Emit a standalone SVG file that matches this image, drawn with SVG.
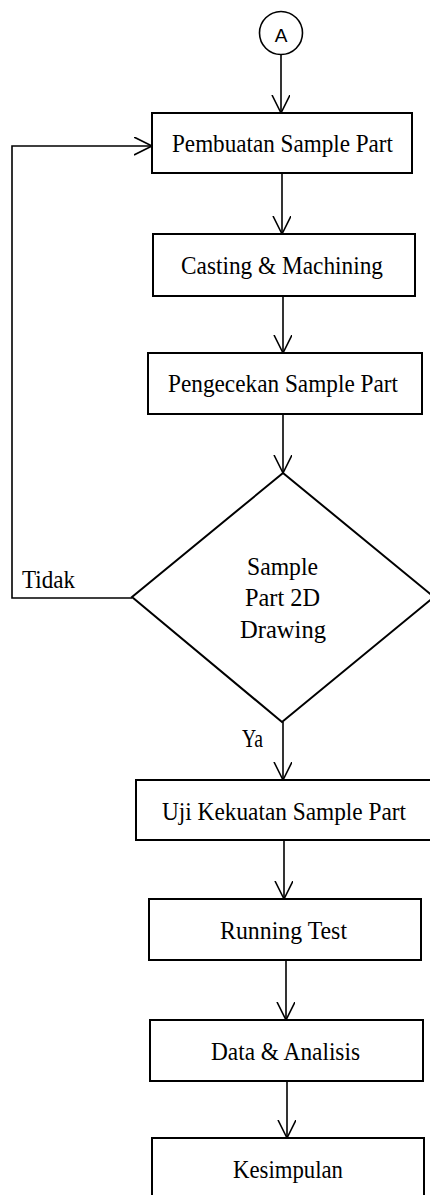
<svg xmlns="http://www.w3.org/2000/svg" width="430" height="1195" viewBox="0 0 430 1195">
<style>
.box{fill:#fff;stroke:#000;stroke-width:2}
.conn{fill:none;stroke:#000;stroke-width:1.6;marker-end:url(#arr)}
.t{font-family:"Liberation Serif","Times New Roman",serif;font-size:26px;fill:#000}
.s{font-family:"Liberation Sans",Arial,sans-serif;font-size:19px;fill:#000}
</style>
<defs>
<marker id="arr" markerUnits="userSpaceOnUse" markerWidth="20" markerHeight="20" refX="18" refY="9" orient="auto" viewBox="0 0 20 20">
<path d="M0,0 L18,9 L0,18" fill="none" stroke="#000" stroke-width="1.6"/>
</marker>
</defs>
<rect width="430" height="1195" fill="#fff"/>
<g id="connectors">
<path class="conn" d="M281,55 V113"/>
<path class="conn" d="M282,174 V234"/>
<path class="conn" d="M283,296 V353"/>
<path class="conn" d="M283,414 V473"/>
<path class="conn" d="M283,722 V780"/>
<path class="conn" d="M132,598 H12 V146 H152"/>
<path class="conn" d="M284,840 V899"/>
<path class="conn" d="M286,960 V1020"/>
<path class="conn" d="M287,1081 V1138"/>
<text class="t" x="22" y="588" textLength="53" lengthAdjust="spacingAndGlyphs">Tidak</text>
<text class="t" x="242" y="747" textLength="21" lengthAdjust="spacingAndGlyphs">Ya</text>
</g>
<g id="nodeA">
<circle cx="281" cy="33" r="21.5" fill="#fff" stroke="#000" stroke-width="1.6"/>
<text class="s" x="281" y="42" text-anchor="middle">A</text>
</g>
<g id="node1">
<rect class="box" x="152" y="113" width="260" height="60"/>
<text class="t" x="172" y="152" textLength="221" lengthAdjust="spacingAndGlyphs">Pembuatan Sample Part</text>
</g>
<g id="node2">
<rect class="box" x="153" y="234" width="262" height="62"/>
<text class="t" x="181" y="274" textLength="202" lengthAdjust="spacingAndGlyphs">Casting &amp; Machining</text>
</g>
<g id="node3">
<rect class="box" x="148" y="353" width="274" height="61"/>
<text class="t" x="168" y="392" textLength="230" lengthAdjust="spacingAndGlyphs">Pengecekan Sample Part</text>
</g>
<g id="node4">
<polygon points="283,473 434,597 282,722 132,597" fill="#fff" stroke="#000" stroke-width="2"/>
<text class="t" x="247" y="575" textLength="71" lengthAdjust="spacingAndGlyphs">Sample</text>
<text class="t" x="245" y="606" textLength="75" lengthAdjust="spacingAndGlyphs">Part 2D</text>
<text class="t" x="240" y="638" textLength="86" lengthAdjust="spacingAndGlyphs">Drawing</text>
</g>
<g id="node5">
<rect class="box" x="136" y="780" width="296" height="60"/>
<text class="t" x="162" y="820" textLength="244" lengthAdjust="spacingAndGlyphs">Uji Kekuatan Sample Part</text>
</g>
<g id="node6">
<rect class="box" x="149" y="899" width="272" height="61"/>
<text class="t" x="220" y="939" textLength="127" lengthAdjust="spacingAndGlyphs">Running Test</text>
</g>
<g id="node7">
<rect class="box" x="150" y="1020" width="273" height="61"/>
<text class="t" x="211" y="1060" textLength="149" lengthAdjust="spacingAndGlyphs">Data &amp; Analisis</text>
</g>
<g id="node8">
<rect class="box" x="152" y="1138" width="272" height="70"/>
<text class="t" x="233" y="1178" textLength="110" lengthAdjust="spacingAndGlyphs">Kesimpulan</text>
</g>
</svg>
